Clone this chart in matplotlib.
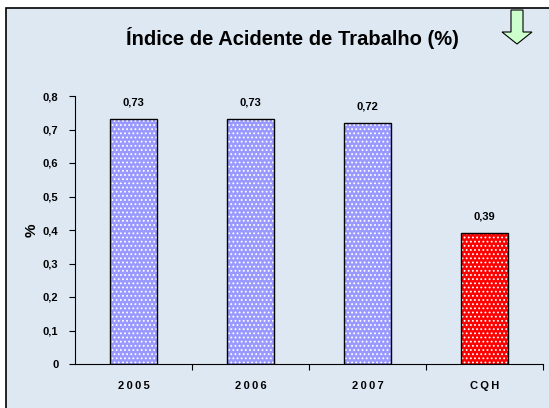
import numpy as np
import matplotlib.pyplot as plt
from matplotlib.patches import Rectangle, FancyArrow

categorias = ["2005", "2006", "2007", "CQH"]
valores = [0.73, 0.73, 0.72, 0.39]
rotulos = ["0,73", "0,73", "0,72", "0,39"]
cores = ["#9999FF", "#9999FF", "#9999FF", "#FF0000"]
yticks = [0, 0.1, 0.2, 0.3, 0.4, 0.5, 0.6, 0.7, 0.8]
ytick_labels = ["0", "0,1", "0,2", "0,3", "0,4", "0,5", "0,6", "0,7", "0,8"]

plt.rcParams['font.family'] = ['Liberation Sans', 'DejaVu Sans']
plt.rcParams['hatch.color'] = 'white'
plt.rcParams['hatch.linewidth'] = 0.8

fig = plt.figure(figsize=(5.49, 4.08), dpi=100)
fig.patch.set_facecolor("white")
# fundo azul claro com moldura
fig.patches.append(Rectangle((6/549, -0.01), 1, 1.01 - 8/408, transform=fig.transFigure,
                             facecolor="#DDE8F3", edgecolor="black", linewidth=1.2,
                             zorder=-10))

ax = fig.add_axes([75/549, 44/408, 468/549, 268/408])
ax.set_facecolor("none")
x = np.arange(len(categorias))
ax.bar(x, valores, width=0.4, color=cores, hatch="....", edgecolor="white", linewidth=0)
ax.bar(x, valores, width=0.4, color="none", edgecolor="black", linewidth=1)
for xi, v, r in zip(x, valores, rotulos):
    ax.text(xi, v + 0.035, r, ha="center", va="bottom", fontsize=8, fontweight="bold")

ax.set_xlim(-0.5, 3.5)
ax.set_ylim(0, 0.8)
ax.set_yticks(yticks)
ax.set_yticklabels(ytick_labels, fontsize=8, fontweight="bold")
ax.set_xticks([0.5, 1.5, 2.5, 3.5])
ax.set_xticklabels([])
ax.tick_params(axis="x", length=4, direction="out")
ax.tick_params(axis="y", length=4, direction="out", pad=8)
for xi, c in zip(x, categorias):
    ax.text(xi, -0.065, "\u2009".join(c), ha="center", va="center", fontsize=8,
            fontweight="bold")
ax.spines["top"].set_visible(False)
ax.spines["right"].set_visible(False)
ax.set_ylabel("%", fontsize=11, fontweight="bold", labelpad=3)

fig.text(292/549, 1 - 38/408, "Índice de Acidente de Trabalho (%)", ha="center", va="center",
         fontsize=14.5, fontweight="bold")

fig.patches.append(FancyArrow(517/549, 1 - 10/408, 0, -34/408, width=12/549,
                              head_width=30/549, head_length=12/408,
                              length_includes_head=True, transform=fig.transFigure,
                              facecolor="#CCFFCC", edgecolor="black", linewidth=0.8))

fig.savefig("out.png", dpi=100)
